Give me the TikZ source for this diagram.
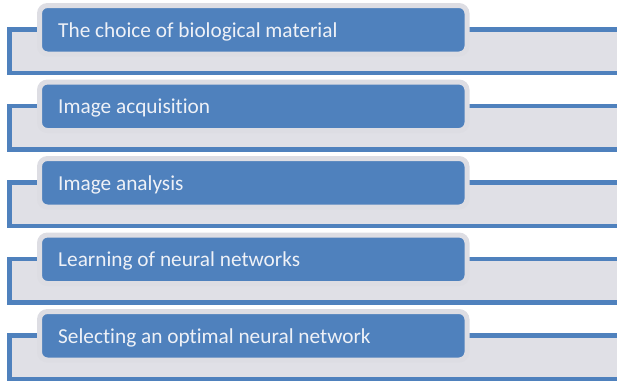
\documentclass[tikz,border=0pt]{standalone}
\usepackage{fontspec}
\setmainfont{Carlito}[RawFeature=-liga]
\definecolor{stepblue}{HTML}{4F81BD}
\definecolor{panelgray}{HTML}{E0E0E6}
\definecolor{rimgray}{HTML}{DDDDE3}
\definecolor{labeltext}{HTML}{EEF1F7}
\begin{document}
\begin{tikzpicture}[x=1pt,y=-1pt,
  backpanel/.style={fill=panelgray,draw=stepblue,line width=4.5pt},
  frontbox/.style={fill=stepblue,draw=rimgray,line width=5pt,rounded corners=8pt},
  steplabel/.style={anchor=base west,inner sep=0pt,text=labeltext,font=\fontsize{21.3}{25}\selectfont}]
\useasboundingbox (0,0) rectangle (617,380);
\foreach \txt [count=\i from 0] in {The choice of biological material,Image acquisition,Image analysis,Learning of neural networks,Selecting an optimal neural network}{
  \pgfmathsetmacro{\dy}{76.5*\i}
  \begin{scope}[yshift=-\dy pt]
    \draw[backpanel] (9.25,29.25) rectangle (630,72.75);
    \draw[frontbox] (39.5,5.5) rectangle (467,54);
    \node[steplabel] (label\i) at (58,37) {\txt};
  \end{scope}
}
\end{tikzpicture}
\end{document}
